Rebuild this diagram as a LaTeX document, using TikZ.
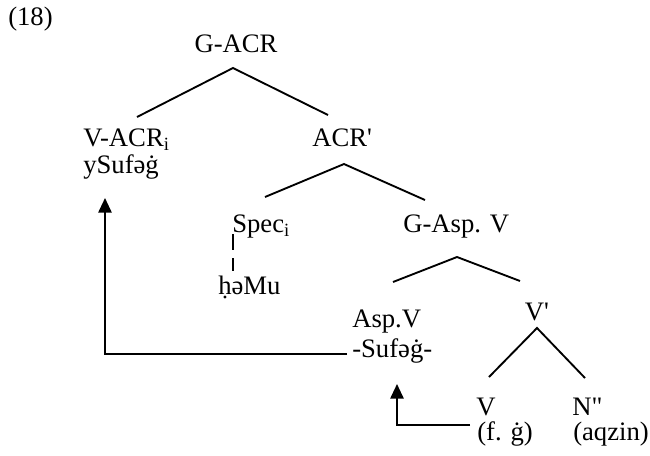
\documentclass[tikz,border=0pt]{standalone}
\usepackage{fontspec}
\setmainfont{Liberation Serif}
\usetikzlibrary{arrows.meta}
\begin{document}
\begin{tikzpicture}[x=0.75pt,y=-0.75pt,
  lbl/.style={anchor=base west, inner sep=0pt, font=\fontsize{20}{23}\selectfont},
  lblc/.style={anchor=base, inner sep=0pt, font=\fontsize{20}{23}\selectfont},
  branch/.style={line width=1.4pt},
  mv/.style={line width=1.4pt, -{Triangle[width=10pt,length=11pt]}}]
\useasboundingbox[fill=white] (0,0) rectangle (650,455);
% labels
\node[lbl] (ex) at (8,25) {(18)};
\node[lblc] (gacr) at (236,52) {G-ACR};
\node[lbl] (vacr) at (83,146) {V-ACR\textsubscript{i}};
\node[lbl] (ysuf) at (83,173) {ySufəġ};
\node[lbl] (acr) at (312,146) {ACR\textquotesingle};
\node[lbl] (spec) at (232,232) {Spec\textsubscript{i}};
\node[lbl] (hmu) at (218,294) {ḥəMu};
\node[lbl] (gasp) at (403,232) {G-Asp. V};
\node[lbl] (aspv) at (352,327) {Asp.V};
\node[lbl] (suf) at (352,357) {-Sufəġ-};
\node[lblc] (vbar) at (537,320) {V\textquotesingle};
\node[lblc] (v) at (486,415) {V};
\node[lbl] (fg) at (477,440) {(f. ġ)};
\node[lbl] (npp) at (572,415) {N\textquotedbl};
\node[lbl] (aqzin) at (573,440) {(aqzin)};
% branch points
\coordinate (r0) at (233,68);  \coordinate (r1) at (137,117); \coordinate (r2) at (328,115);
\coordinate (a0) at (344,164); \coordinate (a1) at (265,197); \coordinate (a2) at (425,200);
\coordinate (g0) at (457,257); \coordinate (g1) at (393,282); \coordinate (g2) at (520,281);
\coordinate (v0) at (537,328); \coordinate (v1) at (489,377); \coordinate (v2) at (585,378);
\coordinate (s1) at (233,234); \coordinate (s2) at (233,250);
\coordinate (s3) at (233,258); \coordinate (s4) at (233,271);
\coordinate (m1) at (347,354); \coordinate (t1) at (105,198);
\coordinate (m2) at (470,425); \coordinate (t2) at (397,384);
% tree
\draw[branch] (r1) -- (r0) -- (r2);
\draw[branch] (a1) -- (a0) -- (a2);
\draw[branch] (g1) -- (g0) -- (g2);
\draw[branch] (v1) -- (v0) -- (v2);
\draw[branch] (s1) -- (s2) (s3) -- (s4);
% movement arrows
\draw[mv] (m1) -| (t1);
\draw[mv] (m2) -| (t2);
\end{tikzpicture}
\end{document}
